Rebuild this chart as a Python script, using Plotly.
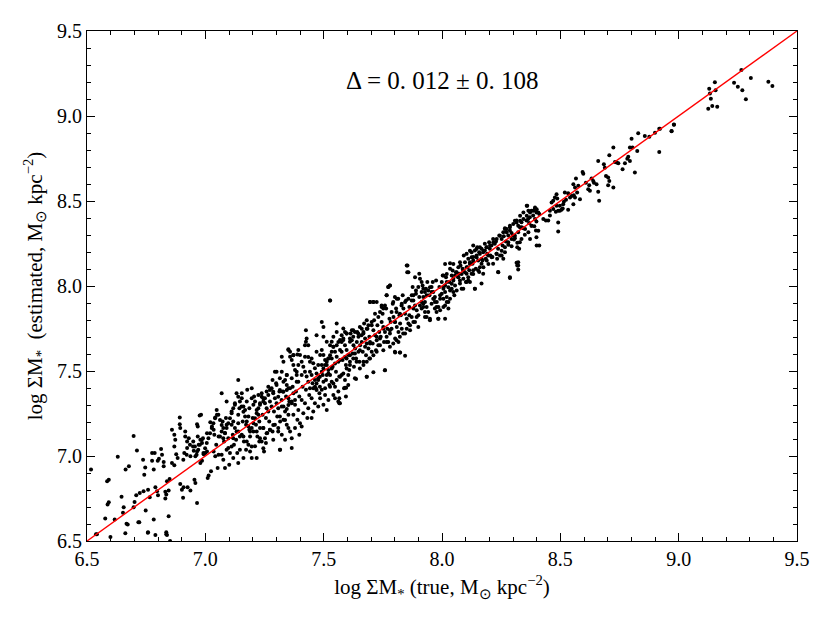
import plotly.graph_objects as go

# ---- data (log surface mass density) ----
# low end, 6.5 - 7.06
low_x = [6.517, 6.585, 6.592, 6.587, 6.592, 6.577, 6.542, 6.599, 6.630, 6.617, 6.646, 6.655, 6.652, 6.663, 6.677,
         6.662, 6.672, 6.697, 6.711, 6.701, 6.697, 6.708, 6.723, 6.721, 6.737, 6.742, 6.746, 6.739, 6.748, 6.758,
         6.765, 6.758, 6.775, 6.786, 6.775, 6.799, 6.804, 6.782, 6.789, 6.796, 6.800, 6.782, 6.789, 6.813, 6.817,
         6.824, 6.824, 6.838, 6.831, 6.835, 6.845, 6.831, 6.835, 6.835, 6.845, 6.849, 6.859, 6.869, 6.859, 6.869,
         6.873, 6.869, 6.877, 6.883, 6.892, 6.892, 6.894, 6.894, 6.901, 6.908, 6.906, 6.915, 6.915, 6.923, 6.930,
         6.911, 6.923, 6.937, 6.925, 6.937, 6.954, 6.958, 6.948, 6.951, 6.958, 6.965, 6.968, 6.972, 6.979, 6.986,
         6.990, 6.965, 6.968, 6.976, 6.982, 6.965, 6.979, 6.986, 6.993, 7.000, 7.007, 7.014, 7.010, 6.851, 6.538,
         6.667, 6.717, 6.757, 6.838, 7.021, 7.028, 7.035, 7.038, 7.042, 7.049, 7.035, 7.042, 7.056, 7.056, 7.024,
         7.052, 7.007, 7.046]
low_y = [6.920, 6.851, 6.861, 6.715, 6.728, 6.633, 6.539, 6.523, 6.996, 6.627, 6.761, 6.699, 6.666, 6.920, 6.939,
         6.545, 6.597, 7.117, 7.033, 6.730, 6.699, 6.769, 6.783, 6.611, 6.978, 6.890, 6.933, 6.793, 6.679, 6.802,
         6.758, 6.552, 7.017, 7.017, 6.972, 6.972, 6.984, 6.627, 6.816, 6.793, 6.769, 6.920, 6.535, 7.041, 7.008,
         6.965, 6.939, 6.851, 6.789, 6.773, 6.797, 6.750, 6.552, 6.539, 6.646, 6.865, 6.959, 6.945, 7.154, 7.125,
         7.095, 7.056, 7.011, 6.988, 7.226, 7.187, 7.164, 6.836, 6.802, 6.816, 6.754, 7.144, 7.115, 7.086, 7.105,
         7.017, 7.047, 6.998, 6.816, 6.797, 6.861, 6.841, 7.056, 7.031, 6.998, 7.027, 7.115, 7.066, 7.095, 7.076,
         7.105, 7.187, 7.174, 7.238, 7.242, 6.724, 6.959, 6.972, 7.011, 7.017, 7.027, 6.886, 6.871, 6.500, 6.540,
         6.601, 6.611, 6.549, 6.535, 7.199, 7.174, 7.154, 7.125, 7.226, 7.242, 7.027, 6.998, 7.008, 7.115, 6.910,
         6.930, 7.134, 7.066]

# 7.06 - 7.37
mid1_x = [7.069, 7.076, 7.083, 7.090, 7.062, 7.079, 7.097, 7.073, 7.087, 7.090, 7.069, 7.097, 7.076, 7.104, 7.083, 7.101,
          7.111, 7.118, 7.125, 7.132, 7.139, 7.116, 7.130, 7.139, 7.121, 7.135, 7.144, 7.125, 7.139, 7.111, 7.146, 7.118, 7.139,
          7.154, 7.161, 7.168, 7.175, 7.182, 7.158, 7.172, 7.186, 7.154, 7.163, 7.182, 7.189, 7.172, 7.154, 7.177, 7.186, 7.161, 7.196,
          7.196, 7.203, 7.210, 7.217, 7.224, 7.200, 7.214, 7.228, 7.203, 7.220, 7.228, 7.210, 7.231, 7.196, 7.224, 7.206, 7.231,
          7.238, 7.245, 7.252, 7.259, 7.266, 7.242, 7.256, 7.270, 7.245, 7.262, 7.273, 7.252, 7.238, 7.273, 7.259, 7.266, 7.248, 7.256,
          7.280, 7.287, 7.294, 7.301, 7.308, 7.284, 7.299, 7.313, 7.280, 7.290, 7.304, 7.316, 7.294, 7.284, 7.308, 7.316, 7.287, 7.301,
          7.323, 7.330, 7.323, 7.337, 7.344, 7.351, 7.327, 7.341, 7.355, 7.323, 7.337, 7.351, 7.330, 7.344, 7.358, 7.323, 7.337, 7.351,
          7.344, 7.358, 7.365, 7.351]
mid1_y = [7.144, 7.164, 7.135, 7.184, 7.115, 7.086, 7.105, 7.203, 7.223, 7.320, 7.369, 7.047, 6.978, 7.017, 6.930, 6.949,
          7.262, 7.203, 7.164, 7.144, 7.193, 7.125, 7.096, 7.242, 7.066, 7.017, 7.281, 7.301, 7.447, 7.184, 7.115, 6.988, 6.959,
          7.340, 7.291, 7.271, 7.320, 7.232, 7.203, 7.184, 7.154, 7.125, 7.086, 7.066, 7.115, 7.037, 7.369, 7.389, 7.281, 6.988, 6.988,
          7.340, 7.301, 7.320, 7.271, 7.242, 7.223, 7.184, 7.203, 7.144, 7.115, 7.086, 7.057, 7.164, 7.398, 7.359, 7.350, 7.301,
          7.369, 7.340, 7.311, 7.281, 7.262, 7.242, 7.223, 7.203, 7.164, 7.135, 7.154, 7.105, 7.086, 7.320, 7.379, 7.408, 7.027, 7.076,
          7.398, 7.369, 7.340, 7.311, 7.281, 7.447, 7.428, 7.379, 7.291, 7.262, 7.232, 7.203, 7.184, 7.144, 7.164, 7.037, 7.096, 7.496,
          7.584, 7.555, 7.496, 7.447, 7.418, 7.398, 7.379, 7.350, 7.320, 7.291, 7.262, 7.242, 7.213, 7.184, 7.144, 7.125, 7.096, 7.340,
          7.477, 7.613, 7.047, 7.623]

# extra points read from a closer look, 6.9 - 7.4
mid1b_x = [7.351, 7.358, 7.372, 7.389, 7.393, 7.386, 7.365, 7.344, 7.330, 7.315, 7.301, 7.294, 7.315, 7.330, 7.344, 7.358,
           7.372, 7.386, 7.379, 7.365, 7.351, 7.344, 7.330, 7.322, 7.308, 7.287, 7.273, 7.266, 7.252, 7.245, 7.238, 7.231,
           7.224, 7.217, 7.210, 7.203, 7.196, 7.189, 7.182, 7.175, 7.168, 7.161, 7.153, 7.146, 7.139, 7.132, 7.125, 7.118,
           7.111, 7.104, 7.097, 7.090, 7.083, 7.076, 7.069, 7.062, 7.055, 7.048, 7.041, 7.034, 7.027, 7.020, 7.013, 7.006,
           6.999, 6.992, 6.985, 6.977, 6.970, 6.963, 6.956, 6.949, 6.935, 6.921, 6.907,
           7.217, 7.231, 7.245, 7.259, 7.273, 7.287, 7.308, 7.315, 7.337, 7.351, 7.175, 7.196, 7.161, 7.139, 7.118, 7.111,
           7.090, 7.069, 7.146, 7.189, 7.245, 7.315, 7.217]
mid1b_y = [7.628, 7.584, 7.593, 7.597, 7.535, 7.496, 7.457, 7.476, 7.437, 7.457, 7.418, 7.496, 7.388, 7.378, 7.388, 7.398,
           7.369, 7.437, 7.330, 7.310, 7.300, 7.277, 7.291, 7.330, 7.349, 7.378, 7.388, 7.359, 7.339, 7.320, 7.349, 7.310,
           7.281, 7.252, 7.222, 7.193, 7.164, 7.144, 7.173, 7.203, 7.232, 7.261, 7.291, 7.320, 7.349, 7.369, 7.310, 7.281,
           7.252, 7.222, 7.193, 7.164, 7.134, 7.105, 7.183, 7.212, 7.242, 7.271, 7.222, 7.193, 7.164, 7.134, 7.105, 7.076,
           7.046, 7.017, 7.095, 7.066, 7.037, 7.007, 7.056, 7.085, 7.066, 7.007, 6.978,
           7.144, 7.105, 7.164, 7.134, 7.154, 7.183, 7.144, 7.232, 7.212, 7.164, 7.085, 7.056, 7.115, 7.144, 7.105, 7.056,
           7.037, 7.007, 7.037, 7.027, 7.046, 7.037, 6.988]

# 7.37 - 7.61
mid2_x = [7.365, 7.372, 7.379, 7.386, 7.393, 7.369, 7.383, 7.397, 7.365, 7.379, 7.393, 7.372, 7.389, 7.400, 7.379, 7.365, 7.397, 7.400, 7.393, 7.372,
          7.407, 7.414, 7.421, 7.428, 7.435, 7.411, 7.425, 7.439, 7.407, 7.421, 7.435, 7.414, 7.431, 7.442, 7.407, 7.421, 7.435, 7.425, 7.442, 7.407,
          7.449, 7.456, 7.463, 7.470, 7.477, 7.453, 7.467, 7.482, 7.449, 7.463, 7.477, 7.456, 7.470, 7.485, 7.463, 7.449, 7.477, 7.485, 7.470, 7.449,
          7.492, 7.499, 7.506, 7.513, 7.520, 7.496, 7.510, 7.524, 7.492, 7.506, 7.520, 7.499, 7.513, 7.527, 7.492, 7.506, 7.520, 7.527, 7.499, 7.513,
          7.534, 7.541, 7.548, 7.555, 7.562, 7.538, 7.552, 7.566, 7.534, 7.548, 7.562, 7.541, 7.555, 7.569, 7.548, 7.534, 7.562, 7.569,
          7.576, 7.583, 7.590, 7.597, 7.604, 7.580, 7.594, 7.608, 7.576, 7.590, 7.604, 7.583, 7.597, 7.611, 7.576, 7.597, 7.586, 7.604, 7.569, 7.594,
          7.527, 7.566, 7.566, 7.541, 7.595]
mid2_y = [7.564, 7.535, 7.506, 7.477, 7.437, 7.408, 7.379, 7.350, 7.320, 7.301, 7.271, 7.242, 7.213, 7.193, 7.164, 7.105, 7.125, 7.594, 7.623, 7.594,
          7.555, 7.525, 7.496, 7.467, 7.437, 7.408, 7.389, 7.359, 7.330, 7.311, 7.281, 7.252, 7.223, 7.398, 7.477, 7.584, 7.652, 7.672, 7.496, 7.174,
          7.574, 7.545, 7.516, 7.486, 7.457, 7.428, 7.398, 7.369, 7.340, 7.311, 7.291, 7.262, 7.613, 7.594, 7.447, 7.477, 7.535, 7.340, 7.711, 7.223,
          7.623, 7.594, 7.564, 7.535, 7.506, 7.477, 7.447, 7.418, 7.389, 7.359, 7.330, 7.301, 7.672, 7.652, 7.535, 7.398, 7.574, 7.477, 7.701, 7.271,
          7.672, 7.643, 7.613, 7.584, 7.555, 7.525, 7.496, 7.467, 7.437, 7.408, 7.379, 7.701, 7.730, 7.682, 7.340, 7.574, 7.320, 7.623,
          7.711, 7.682, 7.652, 7.623, 7.594, 7.564, 7.535, 7.506, 7.477, 7.447, 7.418, 7.750, 7.721, 7.672, 7.613, 7.574, 7.398, 7.477, 7.311, 7.350,
          7.915, 7.339, 7.310, 7.359, 7.402]

# extra points read from a closer look, 7.4 - 7.9
mid2b_x = [7.851, 7.853, 7.886, 7.900, 7.890, 7.879, 7.872, 7.858, 7.844, 7.829, 7.815, 7.801, 7.794, 7.780, 7.773, 7.766,
           7.759, 7.752, 7.738, 7.731, 7.717, 7.710, 7.696, 7.724, 7.703, 7.689, 7.682, 7.668, 7.660, 7.646, 7.632, 7.625,
           7.611, 7.597, 7.590, 7.583, 7.576, 7.562, 7.555, 7.541, 7.534, 7.527, 7.520, 7.513, 7.506, 7.499, 7.492, 7.484,
           7.477, 7.470, 7.463, 7.456, 7.442, 7.435, 7.428, 7.425, 7.421, 7.492, 7.499, 7.527, 7.555, 7.625, 7.653, 7.682,
           7.745, 7.808, 7.822,
           7.893, 7.879, 7.865, 7.851, 7.836, 7.822, 7.808, 7.794, 7.780, 7.766, 7.752, 7.738, 7.724, 7.710, 7.696, 7.682,
           7.668, 7.653, 7.639, 7.625, 7.611, 7.597, 7.583, 7.569, 7.555, 7.541, 7.527, 7.513, 7.499, 7.484, 7.470, 7.801,
           7.822, 7.759, 7.682, 7.632, 7.590, 7.801, 7.780, 7.752, 7.724, 7.696, 7.675, 7.653, 7.632, 7.611, 7.590, 7.569,
           7.548, 7.534, 7.520]
mid2b_y = [8.120, 8.081, 8.052, 7.994, 7.954, 7.945, 7.915, 7.925, 7.906, 7.886, 7.925, 7.935, 7.906, 8.003, 7.994, 7.945,
           7.886, 7.867, 7.847, 7.818, 7.837, 7.906, 7.906, 7.906, 7.788, 7.769, 7.749, 7.730, 7.710, 7.720, 7.730, 7.701,
           7.691, 7.720, 7.730, 7.691, 7.671, 7.671, 7.652, 7.642, 7.613, 7.593, 7.574, 7.554, 7.535, 7.515, 7.496, 7.466,
           7.447, 7.427, 7.408, 7.398, 7.554, 7.583, 7.691, 7.740, 7.652, 7.788, 7.759, 7.915, 7.779, 7.740, 7.759, 7.798,
           7.876, 7.847, 7.837,
           7.818, 7.788, 7.769, 7.749, 7.720, 7.701, 7.681, 7.662, 7.642, 7.671, 7.622, 7.652, 7.613, 7.593, 7.574, 7.554,
           7.535, 7.515, 7.554, 7.574, 7.535, 7.515, 7.486, 7.466, 7.447, 7.427, 7.408, 7.476, 7.437, 7.408, 7.388, 7.613,
           7.609, 7.505, 7.466, 7.457, 7.402, 7.788, 7.740, 7.749, 7.701, 7.671, 7.642, 7.622, 7.603, 7.593, 7.583, 7.564,
           7.544, 7.515, 7.486]

# 7.61 - 8.08
mid3_x = [7.614, 7.619, 7.626, 7.633, 7.640, 7.647, 7.623, 7.637, 7.651, 7.628, 7.647, 7.619, 7.654, 7.642, 7.611, 7.637,
          7.661, 7.668, 7.675, 7.682, 7.689, 7.665, 7.679, 7.693, 7.685, 7.671, 7.696, 7.661, 7.682, 7.693, 7.668,
          7.703, 7.710, 7.717, 7.724, 7.731, 7.707, 7.721, 7.735, 7.713, 7.727, 7.696, 7.710, 7.710, 7.738, 7.703,
          7.745, 7.752, 7.759, 7.766, 7.773, 7.749, 7.764, 7.778, 7.741, 7.755, 7.769, 7.780, 7.759, 7.766, 7.773, 7.780, 7.745,
          7.787, 7.795, 7.802, 7.809, 7.816, 7.792, 7.806, 7.820, 7.787, 7.802, 7.823, 7.809, 7.802, 7.823, 7.783, 7.816]
mid3_y = [7.720, 7.681, 7.652, 7.632, 7.671, 7.701, 7.603, 7.574, 7.554, 7.525, 7.613, 7.740, 7.652, 7.730, 7.554, 7.453,
          7.749, 7.720, 7.691, 7.662, 7.632, 7.613, 7.593, 7.701, 7.749, 7.779, 7.662, 7.671, 7.466, 7.574, 7.554,
          7.769, 7.740, 7.710, 7.681, 7.652, 7.662, 7.622, 7.730, 7.798, 7.769, 7.906, 7.906, 7.492, 7.691, 7.613,
          7.788, 7.759, 7.730, 7.701, 7.671, 7.837, 7.867, 7.808, 7.701, 7.671, 7.749, 7.720, 7.505, 7.945, 7.994, 8.003, 7.886,
          7.847, 7.818, 7.788, 7.759, 7.730, 7.896, 7.867, 7.828, 7.749, 7.691, 7.779, 7.925, 7.609, 7.609, 7.788, 7.671]

mid4_x = [7.830, 7.837, 7.844, 7.851, 7.858, 7.834, 7.848, 7.862, 7.830, 7.844, 7.865, 7.854, 7.858, 7.844, 7.826, 7.862,
          7.872, 7.879, 7.886, 7.893, 7.900, 7.876, 7.890, 7.904, 7.872, 7.886, 7.900, 7.907, 7.904, 7.879, 7.907,
          7.914, 7.921, 7.928, 7.935, 7.942, 7.918, 7.932, 7.947, 7.914, 7.928, 7.949, 7.938, 7.921,
          7.956, 7.963, 7.970, 7.978, 7.985, 7.961, 7.975, 7.989, 7.956, 7.970, 7.985, 7.992, 7.966,
          7.999, 8.006, 8.013, 8.020, 8.027, 8.003, 8.017, 8.031, 8.013, 8.027, 8.013, 8.006,
          8.041, 8.048, 8.055, 8.062, 8.069, 8.045, 8.059, 8.073, 8.034, 8.041, 8.052]
mid4_y = [7.896, 7.867, 7.837, 7.808, 7.779, 7.945, 7.915, 7.876, 7.749, 7.720, 7.740, 8.120, 8.081, 7.589, 7.828, 7.828,
          7.945, 7.915, 7.886, 7.857, 7.828, 7.994, 7.974, 7.935, 7.818, 7.788, 7.759, 8.042, 8.072, 7.867, 7.886,
          7.964, 7.935, 7.906, 7.876, 7.847, 8.003, 7.984, 7.945, 7.867, 7.818, 7.808, 8.023, 7.896,
          7.994, 7.964, 7.935, 7.906, 7.876, 8.023, 8.033, 7.994, 7.896, 7.867, 7.808, 7.945, 7.925,
          8.023, 7.994, 7.964, 7.935, 7.906, 8.062, 8.052, 8.023, 7.886, 7.867, 8.130, 7.925,
          8.062, 8.033, 8.003, 7.974, 8.052, 8.091, 8.081, 8.072, 8.134, 7.984, 7.945]

# extra points read from a closer look, 7.9 - 8.41
mid4b_x = [7.914, 7.921, 7.928, 7.935, 7.942, 7.949, 7.956, 7.963, 7.914, 7.921, 7.928, 7.935, 7.977, 7.984, 7.970, 7.992,
           7.999, 8.006, 8.013, 8.020, 8.027, 8.034, 8.041, 8.048, 8.055, 8.062, 8.069, 8.076, 8.083, 8.090, 8.006, 8.020,
           8.034, 8.048, 8.069, 8.104, 8.118, 8.132, 8.146, 8.160, 8.175, 8.189, 8.203, 8.217, 8.231, 8.245, 8.259, 8.273,
           8.287, 8.301, 8.315, 8.330, 8.344, 8.358, 8.372, 8.386, 8.400, 8.132, 8.146, 8.160, 8.118, 8.104, 8.125, 8.168,
           8.189, 8.210, 8.231, 8.252, 8.266, 8.280, 8.294, 8.308, 8.322, 8.337, 8.351, 8.365, 8.379, 8.393, 8.407, 8.358,
           8.365, 8.076, 8.097, 8.111, 8.132, 8.153, 8.175, 8.196, 8.048, 8.034, 8.020, 8.006, 7.992, 7.977, 8.090, 8.104,
           8.287, 8.322, 8.322, 8.238, 8.139, 8.118, 8.013, 7.949, 8.266, 8.287, 8.308, 8.330, 8.344, 8.393, 8.407, 8.400,
           8.372]
mid4b_y = [8.023, 7.984, 7.964, 7.945, 7.974, 7.993, 7.964, 7.925, 7.906, 7.876, 7.847, 7.818, 7.876, 7.808, 7.906, 7.925,
           7.954, 7.984, 8.003, 8.023, 7.993, 7.974, 8.013, 8.042, 8.062, 8.081, 8.052, 8.032, 8.071, 8.091, 8.062, 8.071,
           8.101, 8.130, 8.111, 8.111, 8.130, 8.150, 8.169, 8.189, 8.208, 8.228, 8.238, 8.257, 8.277, 8.296, 8.316, 8.335,
           8.355, 8.364, 8.374, 8.384, 8.394, 8.413, 8.433, 8.443, 8.452, 8.238, 8.218, 8.228, 8.208, 8.189, 8.169, 8.159,
           8.150, 8.169, 8.189, 8.208, 8.228, 8.257, 8.277, 8.296, 8.316, 8.345, 8.335, 8.316, 8.355, 8.394, 8.433, 8.472,
           8.443, 8.140, 8.081, 8.052, 8.071, 8.091, 8.111, 8.130, 7.964, 7.925, 7.906, 7.876, 7.857, 7.847, 7.984, 8.023,
           8.052, 8.140, 8.120, 8.081, 7.984, 8.023, 7.808, 7.798, 8.335, 8.345, 8.384, 8.413, 8.433, 8.462, 8.325, 8.238,
           8.277]

# 8.08 - 8.46
high_x = [8.078, 8.087, 8.097, 8.104, 8.111, 8.090, 8.101, 8.115, 8.083, 8.118, 8.092, 8.111, 8.076, 8.107,
          8.125, 8.132, 8.139, 8.146, 8.153, 8.129, 8.143, 8.157, 8.132, 8.149, 8.160, 8.139, 8.125, 8.157,
          8.167, 8.174, 8.181, 8.188, 8.195, 8.171, 8.185, 8.199, 8.167, 8.174, 8.167, 8.202, 8.191, 8.181,
          8.209, 8.216, 8.223, 8.230, 8.237, 8.213, 8.228, 8.242, 8.216, 8.237, 8.245, 8.205, 8.233,
          8.252, 8.259, 8.266, 8.261, 8.270, 8.273, 8.280, 8.280, 8.287, 8.252, 8.266, 8.256,
          8.294, 8.301, 8.308, 8.294, 8.304, 8.315, 8.318, 8.318, 8.322, 8.326, 8.329, 8.287, 8.315, 8.318, 8.322, 8.329,
          8.336, 8.336, 8.343, 8.350, 8.357, 8.360, 8.364, 8.368, 8.371,
          8.378, 8.378, 8.385, 8.390, 8.392, 8.397, 8.399, 8.399, 8.399, 8.411, 8.411, 8.428, 8.439, 8.449, 8.456]
high_y = [8.121, 8.101, 8.140, 8.072, 8.160, 8.043, 8.023, 8.092, 7.984, 8.140, 8.179, 8.033, 8.014, 8.111,
          8.199, 8.170, 8.209, 8.179, 8.150, 8.131, 8.101, 8.082, 8.092, 8.228, 8.111, 7.984, 8.072, 8.199,
          8.219, 8.199, 8.209, 8.228, 8.179, 8.150, 8.160, 8.258, 8.131, 8.072, 8.014, 8.219, 8.189, 8.248,
          8.238, 8.277, 8.248, 8.189, 8.219, 8.170, 8.262, 8.297, 8.131, 8.082, 8.179, 8.179, 8.160,
          8.277, 8.160, 8.199, 8.293, 8.262, 8.316, 8.242, 8.297, 8.326, 8.179, 8.340, 8.238,
          8.312, 8.297, 8.281, 8.234, 8.273, 8.385, 8.254, 8.228, 8.355, 8.219, 8.346, 8.047, 8.137, 8.121, 8.097, 8.258,
          8.375, 8.277, 8.340, 8.301, 8.385, 8.472, 8.394, 8.371, 8.404,
          8.443, 8.355, 8.414, 8.351, 8.453, 8.326, 8.433, 8.379, 8.287, 8.424, 8.238, 8.394, 8.385, 8.385, 8.414]

# 8.45 - 9.0
top_x = [8.456, 8.463, 8.470, 8.477, 8.484, 8.487, 8.481, 8.491, 8.498, 8.505, 8.510, 8.491, 8.491, 8.519, 8.533,
         8.541, 8.548, 8.555, 8.557, 8.562, 8.512, 8.515, 8.524, 8.533, 8.555, 8.566, 8.562, 8.576, 8.583, 8.571,
         8.594, 8.597, 8.608, 8.618, 8.625, 8.622, 8.632, 8.639, 8.642, 8.653, 8.660, 8.664, 8.660, 8.684, 8.688,
         8.693, 8.702, 8.707, 8.702, 8.724, 8.707, 8.724, 8.731, 8.738, 8.745, 8.763, 8.773, 8.787, 8.783, 8.794,
         8.794, 8.805, 8.801, 8.815, 8.825, 8.829, 8.857, 8.876, 8.900, 8.918, 8.918, 8.970, 8.980,
         8.470, 8.484, 8.498]
top_y = [8.442, 8.491, 8.501, 8.521, 8.540, 8.515, 8.437, 8.442, 8.442, 8.448, 8.456, 8.374, 8.321, 8.550, 8.546,
         8.521, 8.530, 8.481, 8.534, 8.521, 8.481, 8.495, 8.507, 8.448, 8.599, 8.632, 8.579, 8.589, 8.511, 8.550,
         8.671, 8.661, 8.608, 8.569, 8.560, 8.593, 8.632, 8.618, 8.608, 8.599, 8.554, 8.501, 8.735, 8.716, 8.696,
         8.647, 8.638, 8.618, 8.593, 8.579, 8.769, 8.814, 8.730, 8.726, 8.722, 8.687, 8.722, 8.761, 8.749, 8.735,
         8.814, 8.814, 8.866, 8.667, 8.794, 8.898, 8.882, 8.878, 8.901, 8.925, 8.788, 8.911, 8.950,
         8.453, 8.472, 8.472]

# upper tail
tail_x = [8.921, 8.970, 8.980, 9.129, 9.132, 9.153, 9.156, 9.136, 9.125, 9.142, 9.163, 9.234, 9.250, 9.265, 9.269,
          9.284, 9.305, 9.379, 9.396]
tail_y = [8.925, 8.912, 8.949, 9.160, 9.133, 9.199, 9.152, 9.102, 9.043, 9.059, 9.055, 9.195, 9.172, 9.270, 9.152,
          9.098, 9.223, 9.202, 9.176]

one_to_one = [6.5, 9.5]
x_ticks = [6.5, 7.0, 7.5, 8.0, 8.5, 9.0, 9.5]
y_ticks = [6.5, 7.0, 7.5, 8.0, 8.5, 9.0, 9.5]
stat_text = "Δ = 0. 012 ± 0. 108"

all_x = low_x + mid1_x + mid1b_x + mid2_x + mid2b_x + mid3_x + mid4_x + mid4b_x + high_x + top_x + tail_x
all_y = low_y + mid1_y + mid1b_y + mid2_y + mid2b_y + mid3_y + mid4_y + mid4b_y + high_y + top_y + tail_y

FONT = "Liberation Serif"

fig = go.Figure()
fig.add_trace(go.Scatter(x=all_x, y=all_y, mode="markers",
                         marker=dict(color="black", size=4, line=dict(width=0)),
                         showlegend=False, hoverinfo="skip"))
fig.add_trace(go.Scatter(x=one_to_one, y=one_to_one, mode="lines",
                         line=dict(color="red", width=1.4), showlegend=False, hoverinfo="skip"))

axis_common = dict(
    range=[6.5, 9.5], showgrid=False, zeroline=False,
    showline=True, linecolor="black", linewidth=1.2, mirror="ticks",
    ticks="inside", ticklen=8, tickwidth=1, tickcolor="black",
    tickfont=dict(family=FONT, size=20, color="black"),
    minor=dict(ticks="inside", ticklen=4, tickwidth=1, tickcolor="black", dtick=0.1),
)
fig.update_xaxes(**axis_common, tickvals=x_ticks, ticktext=[f"{v:.1f}" for v in x_ticks],
                 title=dict(text="log ΣM<sub>*</sub> (true, M<sub>⊙</sub> kpc<sup>−2</sup>)",
                            font=dict(family=FONT, size=21, color="black"), standoff=10))
fig.update_yaxes(**axis_common, tickvals=y_ticks, ticktext=[f"{v:.1f}" for v in y_ticks],
                 title=dict(text="log ΣM<sub>*</sub>  (estimated, M<sub>⊙</sub> kpc<sup>−2</sup>)",
                            font=dict(family=FONT, size=21, color="black"), standoff=8))

fig.add_annotation(x=0.5, y=0.902, xref="paper", yref="paper", text=stat_text, showarrow=False,
                   font=dict(family=FONT, size=25, color="black"), xanchor="center", yanchor="middle")

fig.update_layout(width=830, height=623, paper_bgcolor="white", plot_bgcolor="white",
                  margin=dict(l=79, r=41, t=21, b=90))

fig.write_html("out.html")
